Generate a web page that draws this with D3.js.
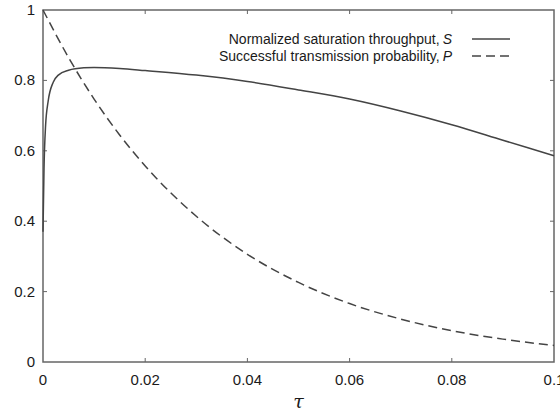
<!DOCTYPE html>
<html>
<head>
<meta charset="utf-8">
<script src="https://cdn.jsdelivr.net/npm/d3@7"></script>
<style>
  html, body { margin: 0; padding: 0; background: #fff; }
  text { font-family: "Liberation Sans", Arial, sans-serif; fill: #1a1a1a; }
</style>
</head>
<body>
<div id="chart"></div>
<script>
  // values
  const tau = [0, 0.0002, 0.0005, 0.001, 0.002, 0.003, 0.005, 0.008, 0.01, 0.015, 0.02,
    0.03, 0.04, 0.05, 0.06, 0.07, 0.08, 0.09, 0.1];
  const throughputS = [0.37, 0.55, 0.67, 0.74, 0.795, 0.815, 0.829, 0.836, 0.837, 0.834, 0.828,
    0.815, 0.797, 0.773, 0.747, 0.713, 0.674, 0.63, 0.586];
  const tauP = [0, 0.005, 0.01, 0.015, 0.02, 0.03, 0.04, 0.05, 0.06, 0.07, 0.08, 0.09, 0.1];
  const probP = [1, 0.865, 0.747, 0.645, 0.557, 0.414, 0.306, 0.226, 0.166, 0.122, 0.089, 0.065, 0.047];
  const xTicks = [0, 0.02, 0.04, 0.06, 0.08, 0.1];
  const xTickLabels = ['0', '0.02', '0.04', '0.06', '0.08', '0.1'];
  const yTicks = [0, 0.2, 0.4, 0.6, 0.8, 1];
  const yTickLabels = ['0', '0.2', '0.4', '0.6', '0.8', '1'];
  const legendLabels = ['Normalized saturation throughput,', 'Successful transmission probability,'];
  const legendSymbols = ['S', 'P'];

  const W = 560, H = 416;
  const margin = { top: 10, right: 6, bottom: 54, left: 43 };
  const width = W - margin.left - margin.right;
  const height = H - margin.top - margin.bottom;
  const axisColor = '#666';
  const curveColor = '#444';

  const svg = d3.select('#chart').append('svg')
    .attr('width', W).attr('height', H);
  const g = svg.append('g').attr('transform', `translate(${margin.left},${margin.top})`);

  const x = d3.scaleLinear().domain([0, 0.1]).range([0, width]);
  const y = d3.scaleLinear().domain([0, 1]).range([height, 0]);

  // frame
  g.append('rect')
    .attr('x', 0).attr('y', 0).attr('width', width).attr('height', height)
    .attr('fill', 'none').attr('stroke', axisColor).attr('stroke-width', 1.5);

  // inward ticks on all four sides
  const tickLen = 4;
  xTicks.forEach((t) => {
    if (t === 0 || t === 0.1) return;
    g.append('line').attr('x1', x(t)).attr('x2', x(t)).attr('y1', height).attr('y2', height - tickLen)
      .attr('stroke', axisColor);
    g.append('line').attr('x1', x(t)).attr('x2', x(t)).attr('y1', 0).attr('y2', tickLen)
      .attr('stroke', axisColor);
  });
  yTicks.forEach((t) => {
    if (t === 0 || t === 1) return;
    g.append('line').attr('x1', 0).attr('x2', tickLen).attr('y1', y(t)).attr('y2', y(t))
      .attr('stroke', axisColor);
    g.append('line').attr('x1', width).attr('x2', width - tickLen).attr('y1', y(t)).attr('y2', y(t))
      .attr('stroke', axisColor);
  });

  g.selectAll('.xlab').data(xTicks).enter().append('text')
    .attr('x', (d) => x(d)).attr('y', height + 23)
    .attr('text-anchor', 'middle').attr('font-size', 15)
    .text((d, i) => xTickLabels[i]);

  g.selectAll('.ylab').data(yTicks).enter().append('text')
    .attr('x', -8).attr('y', (d) => y(d) + 5)
    .attr('text-anchor', 'end').attr('font-size', 15)
    .text((d, i) => yTickLabels[i]);

  g.append('text')
    .attr('x', x(0.05)).attr('y', height + 46)
    .attr('text-anchor', 'middle')
    .style('font-family', '"DejaVu Serif", "Liberation Serif", serif')
    .style('font-style', 'italic').attr('font-size', 19)
    .text('τ');

  const lineS = d3.line().curve(d3.curveMonotoneX)
    .x((d, i) => x(tau[i])).y((d) => y(d));
  const lineP = d3.line().curve(d3.curveMonotoneX)
    .x((d, i) => x(tauP[i])).y((d) => y(d));

  g.append('path').datum(throughputS)
    .attr('d', lineS).attr('fill', 'none')
    .attr('stroke', curveColor).attr('stroke-width', 1.5);

  g.append('path').datum(probP)
    .attr('d', lineP).attr('fill', 'none')
    .attr('stroke', curveColor).attr('stroke-width', 1.5)
    .attr('stroke-dasharray', '9,5');

  // legend
  const legendTextX = 409, legendLineX1 = 429, legendLineX2 = 467;
  const rowY = [29, 46];
  legendLabels.forEach((lab, i) => {
    const t = g.append('text')
      .attr('x', legendTextX).attr('y', rowY[i] + 5)
      .attr('text-anchor', 'end').attr('font-size', 14);
    t.append('tspan').text(lab);
    t.append('tspan').attr('dx', 3).style('font-style', 'italic').text(legendSymbols[i]);
    g.append('line')
      .attr('x1', legendLineX1).attr('x2', legendLineX2)
      .attr('y1', rowY[i]).attr('y2', rowY[i])
      .attr('stroke', curveColor).attr('stroke-width', 1.5)
      .attr('stroke-dasharray', i === 1 ? '9,5' : null);
  });
</script>
</body>
</html>
